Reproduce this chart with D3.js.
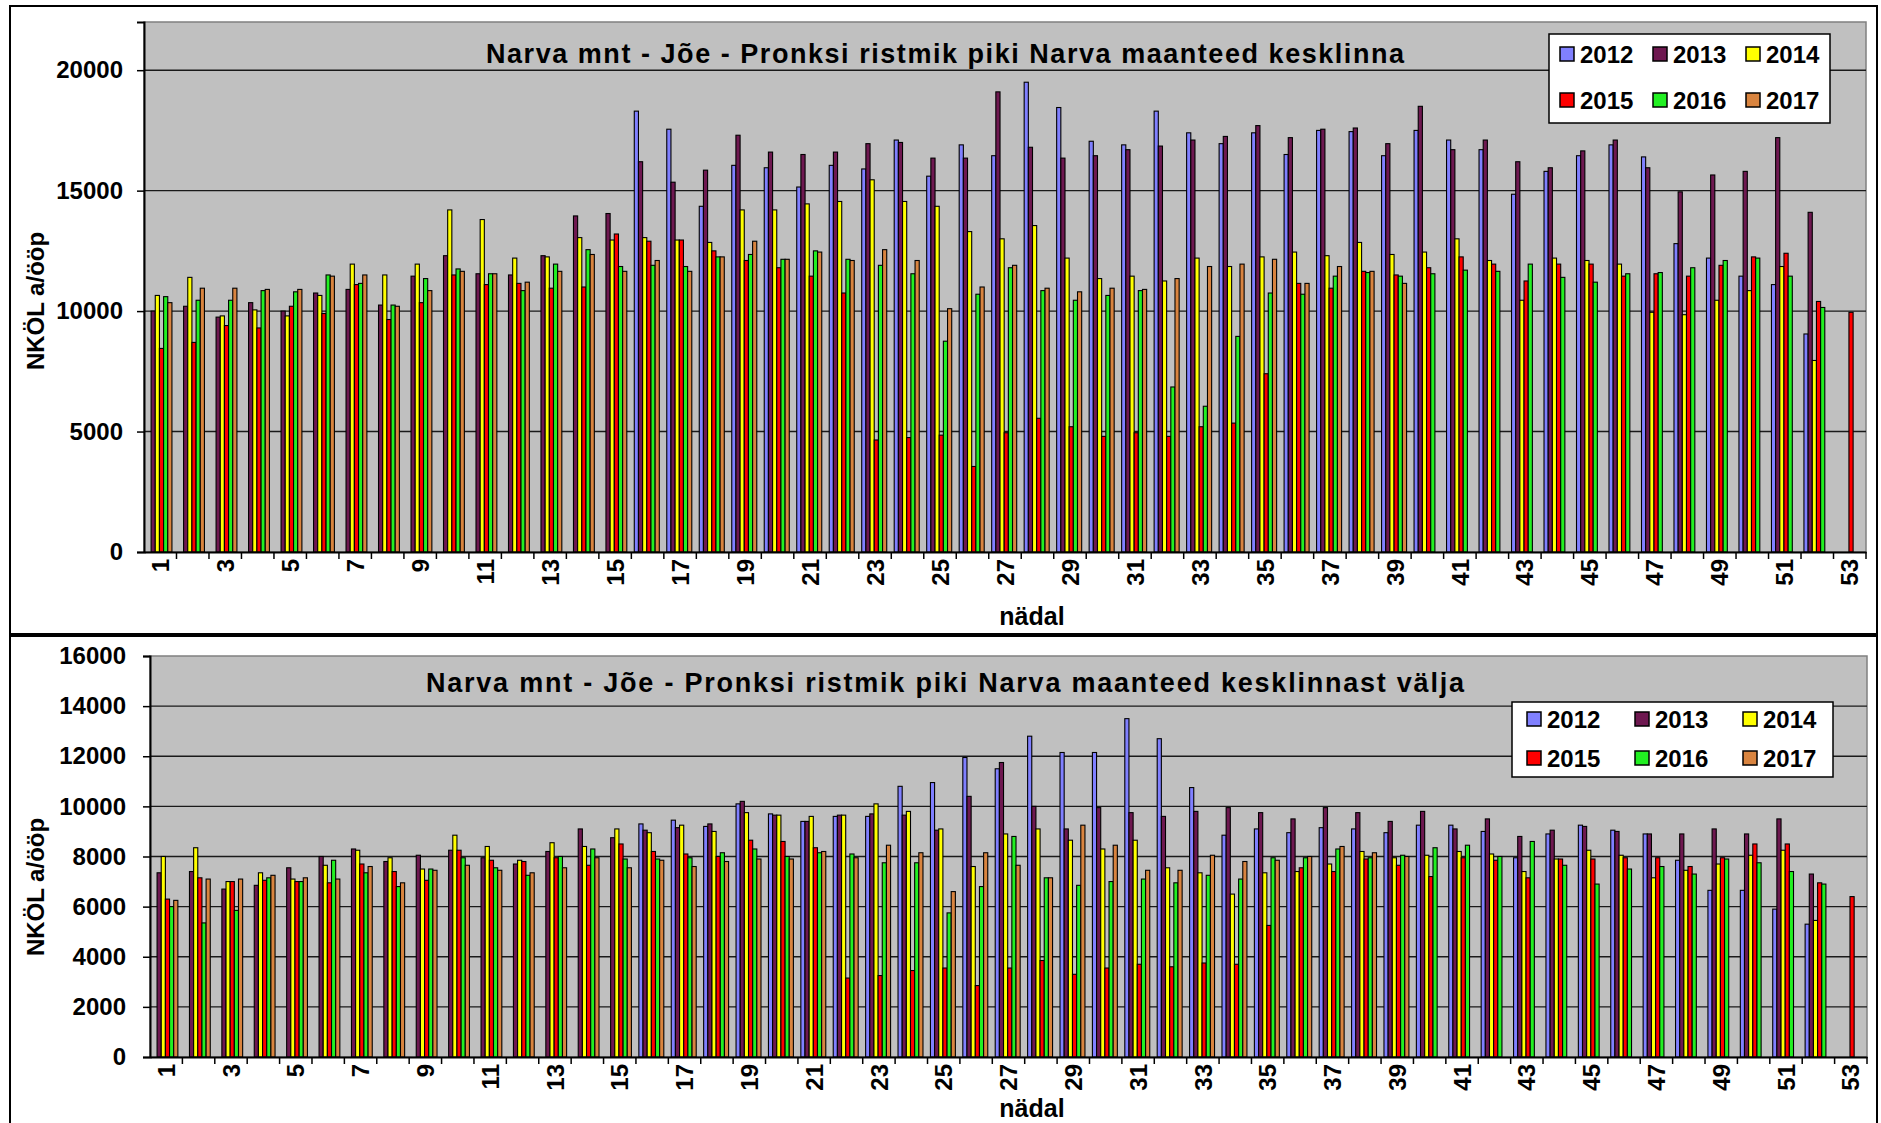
<!DOCTYPE html>
<html><head><meta charset="utf-8">
<script src="https://cdn.jsdelivr.net/npm/d3@7"></script>
<style>
body{margin:0;background:#fff}
text{font-family:"Liberation Sans",Arial,sans-serif}
</style>
</head><body>
<svg id="c" width="1881" height="1123"></svg>
<script>
const weeks = [1,2,3,4,5,6,7,8,9,10,11,12,13,14,15,16,17,18,19,20,21,22,23,24,25,26,27,28,29,30,31,32,33,34,35,36,37,38,39,40,41,42,43,44,45,46,47,48,49,50,51,52,53];
const years = ["2012","2013","2014","2015","2016","2017"];
const yearColors = ["#8080FF","#6E1850","#FFFF00","#FF0000","#22F022","#D9843F"];

const titleIn = "Narva mnt - Jõe - Pronksi ristmik piki Narva maanteed kesklinna";
const titleOut = "Narva mnt - Jõe - Pronksi ristmik piki Narva maanteed kesklinnast välja";
const yTitle = "NKÖL a/ööp";
const xTitle = "nädal";
const ticksIn = [0,5000,10000,15000,20000];
const ticksOut = [0,2000,4000,6000,8000,10000,12000,14000,16000];

// Inbound (kesklinna)
const in2012 = [null,null,null,null,null,null,null,null,null,null,null,null,null,null,null,
 18300,17550,14350,16050,15950,15150,16050,15900,17100,15600,16900,16450,19500,18450,17050,16900,18300,17400,16950,17400,16500,17500,17450,16450,17500,17100,16700,14850,15800,16450,16900,16400,12800,12200,11450,11100,9050,null];
const in2013 = [10000,10200,9750,10350,10000,10750,10900,10250,11450,12300,11550,11500,12300,13950,14050,16200,15350,15850,17300,16600,16500,16600,16950,17000,16350,16350,19100,16800,16350,16450,16700,16850,17100,17250,17700,17200,17550,17600,16950,18500,16700,17100,16200,15950,16650,17100,15950,14950,15650,15800,17200,14100,null];
const in2014 = [10650,11400,9800,10050,9800,10650,11950,11500,11950,14200,13800,12200,12250,13050,12950,13050,12950,12850,14200,14200,14450,14550,15450,14550,14350,13300,13000,13550,12200,11350,11450,11250,12200,11850,12250,12450,12300,12850,12350,12450,13000,12100,10450,12200,12100,11950,9950,9850,10450,10850,11850,7950,null];
const in2015 = [8450,8700,9400,9300,10200,9900,11100,9650,10350,11500,11100,11150,10950,11000,13200,12900,12950,12500,12100,11800,11450,10750,4650,4750,4850,3550,4950,5550,5200,4800,4950,4800,5200,5350,7400,11150,10950,11650,11500,11800,12250,11950,11250,11950,11950,11450,11550,11450,11900,12250,12400,10400,9950];
const in2016 = [10600,10450,10450,10850,10800,11500,11150,10250,11350,11750,11550,10850,11950,12550,11850,11900,11850,12250,12350,12150,12500,12150,11900,11550,8750,10700,11800,10850,10450,10650,10850,6850,6050,8950,10750,10700,11450,11600,11450,11550,11700,11650,11950,11400,11200,11550,11600,11800,12100,12200,11450,10150,null];
const in2017 = [10350,10950,10950,10900,10900,11450,11500,10200,10850,11650,11550,11200,11650,12350,11650,12100,11650,12250,12900,12150,12450,12100,12550,12100,10100,11000,11900,10950,10800,10950,10900,11350,11850,11950,12150,11150,11850,11650,11150,
 null,null,null,null,null,null,null,null,null,null,null,null,null,null];

// Outbound (kesklinnast välja)
const out2012 = [null,null,null,null,null,null,null,null,null,null,null,null,null,null,null,
 9300,9450,9200,10100,9700,9400,9600,9600,10800,10950,11950,11500,12800,12150,12150,13500,12700,10750,8850,9100,8950,9150,9100,8950,9250,9250,9000,7950,8900,9250,9050,8900,7850,6650,6650,5900,5300,null];
const out2013 = [7350,7400,6700,6850,7550,8000,8300,7800,8050,8250,7950,7700,8200,9100,8750,9050,9150,9300,10200,9650,9400,9650,9700,9650,9050,10400,11750,10000,9100,9950,9750,9600,9800,9950,9750,9500,9950,9750,9400,9800,9100,9500,8800,9050,9200,9000,8900,8900,9100,8900,9500,7300,null];
const out2014 = [8000,8350,7000,7350,7100,7650,8250,7950,7500,8850,8400,7850,8550,8400,9100,8950,9250,9000,9750,9650,9600,9650,10100,9800,9100,7600,8900,9100,8650,8300,8650,7550,7350,6500,7350,7400,7700,8200,7950,8050,8200,8100,7400,7900,8250,8050,7150,7450,7700,8050,8250,5450,null];
const out2015 = [6300,7150,7000,7050,7000,6950,7700,7400,7050,8250,7850,7800,7950,7650,8500,8200,8100,8000,8650,8600,8350,3150,3250,3450,3550,2850,3550,3850,3300,3550,3700,3600,3750,3700,5250,7550,7400,7900,7650,7200,7950,7850,7150,7900,7900,7950,7950,7600,7950,8500,8500,6950,6400];
const out2016 = [6000,5350,5850,7150,7000,7850,7350,6800,7500,7950,7550,7250,8000,8300,7900,7900,7950,8150,8300,8000,8150,8100,7750,7750,5750,6800,8800,7150,6850,7000,7100,6950,7250,7100,7950,7950,8300,7950,8050,8350,8450,8000,8600,7650,6900,7500,7600,7300,7900,7750,7400,6900,null];
const out2017 = [6250,7100,7100,7250,7150,7100,7600,6950,7450,7650,7450,7350,7550,7950,7550,7850,7600,7800,7900,7900,8200,7950,8450,8150,6600,8150,7650,7150,9250,8450,7450,7450,8050,7800,7850,8000,8400,8150,8000,
 null,null,null,null,null,null,null,null,null,null,null,null,null,null];

const svg = d3.select("#c");
svg.append("rect").attr("width",1881).attr("height",1123).attr("fill","#fff");

function drawChart(cfg){
  const g = svg.append("g");
  const x0 = d3.scaleBand().domain(weeks).range([cfg.left, cfg.right]).paddingInner(0).paddingOuter(0);
  const bw = x0.bandwidth();
  const x1 = d3.scaleBand().domain(years).range([bw*0.09, bw*0.86]).padding(0);
  const y = d3.scaleLinear().domain([0, cfg.max]).range([cfg.bottom, cfg.top]);

  // plot area
  g.append("rect").attr("x",cfg.left).attr("y",cfg.top)
    .attr("width",cfg.right-cfg.left).attr("height",cfg.bottom-cfg.top)
    .attr("fill","#C0C0C0").attr("stroke","#808080").attr("stroke-width",1.5);

  // gridlines
  g.selectAll(".grid").data(cfg.ticks.filter(t=>t>0 && t<cfg.max)).enter().append("line")
    .attr("x1",cfg.left).attr("x2",cfg.right)
    .attr("y1",d=>y(d)).attr("y2",d=>y(d))
    .attr("stroke","#1a1a1a").attr("stroke-width",1.4);

  // bars
  const groups = g.selectAll(".wk").data(weeks).enter().append("g")
    .attr("transform",d=>`translate(${x0(d)},0)`);
  groups.selectAll("rect").data((w,i)=>years.map((yr,k)=>({yr,k,v:cfg.series[k][i]})).filter(d=>d.v!=null))
    .enter().append("rect")
    .attr("x",d=>x1(d.yr)).attr("width",x1.bandwidth())
    .attr("y",d=>y(d.v)).attr("height",d=>cfg.bottom-y(d.v))
    .attr("fill",d=>yearColors[d.k]).attr("stroke","#000").attr("stroke-width",1.1);

  // y axis
  const ya = d3.axisLeft(y).tickValues(cfg.ticks).tickSize(7).tickPadding(cfg.yPad).tickFormat(d3.format("d"));
  const yg = g.append("g").attr("transform",`translate(${cfg.left},0)`).call(ya);
  yg.select(".domain").attr("stroke","#000").attr("stroke-width",2);
  yg.selectAll(".tick line").attr("stroke","#000").attr("stroke-width",1.5);
  yg.selectAll(".tick text").attr("font-size",24).attr("font-weight","bold").attr("fill","#000")
    .style("font-family",'"Liberation Sans",Arial,sans-serif');

  // x axis
  const xa = d3.axisBottom(x0).tickSize(0).tickFormat("");
  const xg = g.append("g").attr("transform",`translate(0,${cfg.bottom})`).call(xa);
  xg.select(".domain").attr("stroke","#000").attr("stroke-width",2);
  g.selectAll(".xt").data(weeks).enter().append("line")
    .attr("x1",d=>x0(d)+bw).attr("x2",d=>x0(d)+bw)
    .attr("y1",cfg.bottom).attr("y2",cfg.bottom+7)
    .attr("stroke","#000").attr("stroke-width",1.5);
  g.selectAll(".xl").data(weeks.filter(w=>w%2===1)).enter().append("text")
    .attr("transform",d=>`translate(${x0(d)+bw/2},${cfg.bottom+7}) rotate(-90)`)
    .attr("text-anchor","end").attr("dy","0.36em")
    .attr("font-size",24).attr("font-weight","bold").text(d=>d);

  // titles
  g.append("text").attr("x",cfg.titleX).attr("y",cfg.titleY).attr("text-anchor","middle")
    .attr("font-size",27).attr("font-weight","bold")
    .attr("textLength",cfg.titleW).attr("lengthAdjust","spacing").text(cfg.title);
  g.append("text").attr("transform",`translate(${cfg.yTitleX},${cfg.yTitleY}) rotate(-90)`)
    .attr("text-anchor","middle").attr("dy","0.35em")
    .attr("font-size",24).attr("font-weight","bold").text(yTitle);
  g.append("text").attr("x",cfg.xTitleX).attr("y",cfg.xTitleY).attr("text-anchor","middle")
    .attr("font-size",25).attr("font-weight","bold").text(xTitle);

  // legend
  const L = cfg.legend;
  g.append("rect").attr("x",L.x).attr("y",L.y).attr("width",L.w).attr("height",L.h)
    .attr("fill","#fff").attr("stroke","#000").attr("stroke-width",1.5);
  years.forEach((yr,k)=>{
    const col = k%3, row = Math.floor(k/3);
    const cx = L.x + L.sx + col*L.dx, cy = L.y + L.sy + row*L.dy;
    g.append("rect").attr("x",cx).attr("y",cy-7).attr("width",14).attr("height",14)
      .attr("fill",yearColors[k]).attr("stroke","#000").attr("stroke-width",1.5);
    g.append("text").attr("x",cx+20).attr("y",cy).attr("dy","0.36em")
      .attr("font-size",24).attr("font-weight","bold").text(yr);
  });
}

// frames
svg.append("rect").attr("x",10).attr("y",6).attr("width",1867).attr("height",628)
  .attr("fill","none").attr("stroke","#000").attr("stroke-width",2);
svg.append("rect").attr("x",10).attr("y",636).attr("width",1867).attr("height",520)
  .attr("fill","none").attr("stroke","#000").attr("stroke-width",2);

drawChart({left:144,right:1866,top:22,bottom:552,max:22000,ticks:ticksIn,yPad:14,
  series:[in2012,in2013,in2014,in2015,in2016,in2017],
  title:titleIn,titleX:945,titleY:63,titleW:918,
  yTitleX:36,yTitleY:301,xTitleX:1032,xTitleY:625,
  legend:{x:1549,y:34,w:281,h:89,sx:11,sy:20,dx:93,dy:46}});

drawChart({left:150,right:1867,top:656,bottom:1057,max:16000,ticks:ticksOut,yPad:17,
  series:[out2012,out2013,out2014,out2015,out2016,out2017],
  title:titleOut,titleX:945,titleY:692,titleW:1038,
  yTitleX:36,yTitleY:887,xTitleX:1032,xTitleY:1117,
  legend:{x:1512,y:702,w:321,h:75,sx:15,sy:17,dx:108,dy:39}});
</script>
</body></html>
